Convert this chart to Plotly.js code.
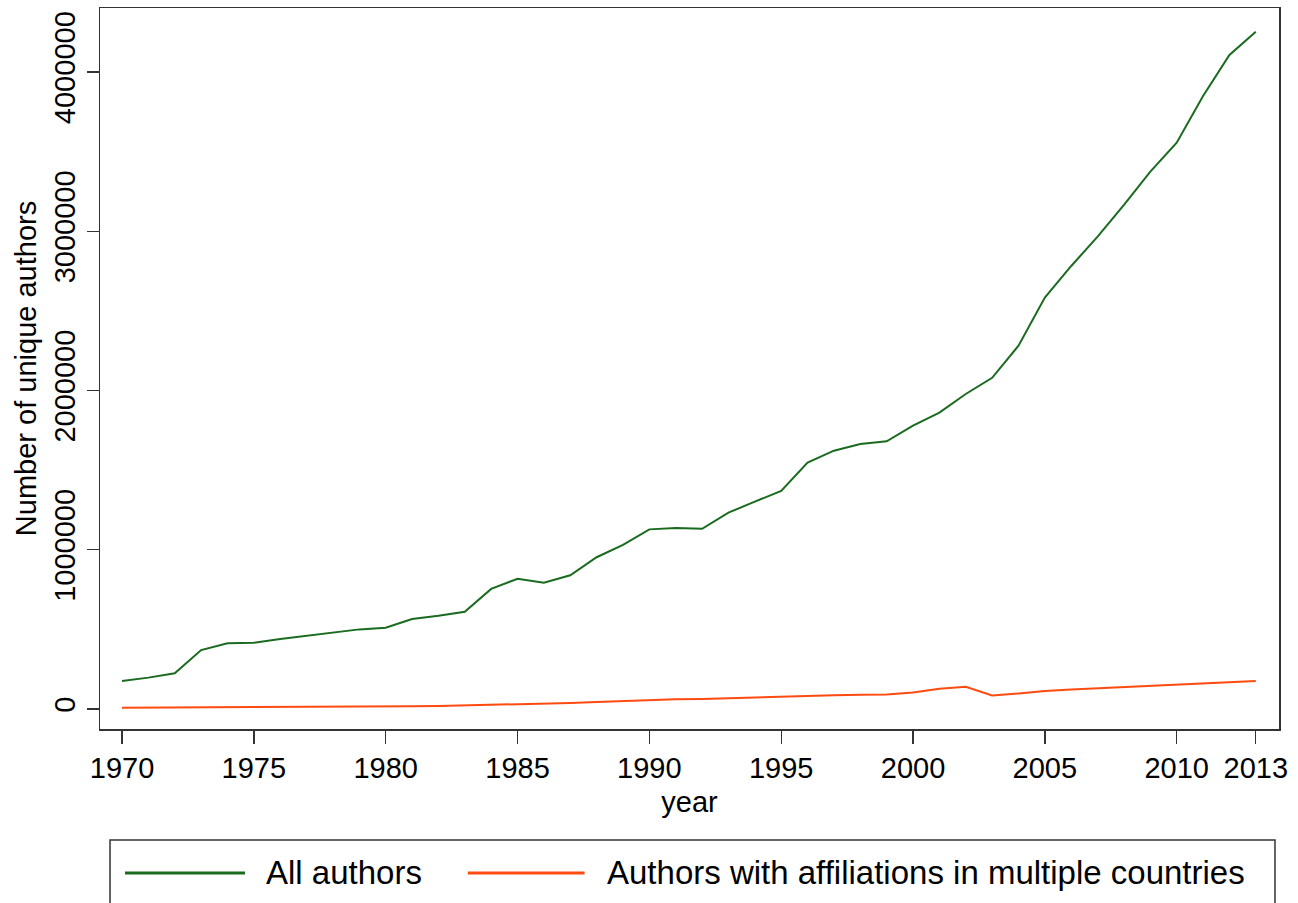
<!DOCTYPE html>
<html>
<head>
<meta charset="utf-8">
<script src="https://cdn.plot.ly/plotly-3.0.1.min.js"></script>
<style>html,body{margin:0;padding:0;background:#fff;}#chart{width:1298px;height:903px;}</style>
</head>
<body>
<div id="chart"></div>
<script>
const years = [1970,1971,1972,1973,1974,1975,1976,1977,1978,1979,1980,1981,1982,1983,1984,1985,1986,1987,1988,1989,1990,1991,1992,1993,1994,1995,1996,1997,1998,1999,2000,2001,2002,2003,2004,2005,2006,2007,2008,2009,2010,2011,2012,2013];
const allAuthors = [176000,197000,224000,370000,413000,416000,440000,460000,477000,500000,510000,565000,586000,611000,754000,818000,793000,840000,953000,1030000,1128000,1137000,1132000,1233000,1302000,1369000,1547000,1622000,1664000,1681000,1779000,1861000,1978000,2080000,2281000,2584000,2782000,2966000,3165000,3374000,3556000,3849000,4107000,4253000];
const multiCountry = [8000,8500,9500,11000,12000,12500,13000,13000,13500,14000,15000,17000,19000,22000,26000,30000,33000,38000,44000,50000,57000,61000,63000,68000,74000,79000,82000,86000,89000,91000,104000,127000,140000,85000,97000,113000,122000,130000,138000,146000,154000,162000,171000,176000];
const xTickVals = [1970,1975,1980,1985,1990,1995,2000,2005,2010,2013];
const yTickVals = [0,1000000,2000000,3000000,4000000];
const seriesNames = ["All authors","Authors with affiliations in multiple countries"];
const seriesColors = ['#1a6b1f', '#ff4a10'];

const FONT = '"Liberation Sans",Arial,Helvetica,sans-serif';

const traces = [
  {x: years, y: allAuthors, type: 'scatter', mode: 'lines', name: seriesNames[0],
   line: {color: seriesColors[0], width: 2}},
  {x: years, y: multiCountry, type: 'scatter', mode: 'lines', name: seriesNames[1],
   line: {color: seriesColors[1], width: 2}}
];

// legend (drawn below the plot, Stata style)
const legendY = -0.1997;
const legendItems = [
  {x0: 0.0212, x1: 0.123, tx: 0.139},
  {x0: 0.312, x1: 0.411, tx: 0.428}
];
const legendShapes = legendItems.map((it, i) => ({
  type: 'line', xref: 'paper', yref: 'paper', x0: it.x0, x1: it.x1, y0: legendY, y1: legendY,
  line: {color: seriesColors[i], width: 3}
}));
const legendAnns = legendItems.map((it, i) => ({
  xref: 'paper', yref: 'paper', x: it.tx, y: legendY, xanchor: 'left', yanchor: 'middle',
  text: seriesNames[i], showarrow: false, font: {family: FONT, size: 33, color: '#000'}
}));

const layout = {
  width: 1298, height: 903,
  margin: {l: 100, r: 19, t: 8, b: 174},
  paper_bgcolor: '#fff', plot_bgcolor: '#fff',
  font: {family: FONT, size: 29, color: '#000'},
  showlegend: false,
  xaxis: {
    range: [1969.165, 2013.88], tickvals: xTickVals, ticktext: xTickVals.map(String),
    showgrid: false, zeroline: false, showline: true, linecolor: '#333', linewidth: 1.5,
    mirror: true, ticks: 'outside', ticklen: 13, tickwidth: 1.3, tickcolor: '#333',
    tickfont: {family: FONT, size: 29},
    title: {text: 'year', font: {family: FONT, size: 29}, standoff: 8}
  },
  yaxis: {
    range: [-125600, 4402000], tickvals: yTickVals, tickformat: 'd',
    showgrid: false, zeroline: false, showline: true, linecolor: '#333', linewidth: 1.5,
    mirror: true, ticks: 'outside', ticklen: 12, tickwidth: 1.3, tickcolor: '#333',
    tickangle: -90, tickfont: {family: FONT, size: 29},
    title: {text: 'Number of unique authors', font: {family: FONT, size: 29}, standoff: 4}
  },
  shapes: [
    {type: 'rect', xref: 'paper', yref: 'paper', x0: 0.0085, x1: 0.9966, y0: -0.26, y1: -0.154,
     line: {color: '#333', width: 1.5}, fillcolor: 'rgba(0,0,0,0)'}
  ].concat(legendShapes),
  annotations: legendAnns
};

Plotly.newPlot('chart', traces, layout, {displayModeBar: false, staticPlot: true});
</script>
</body>
</html>
